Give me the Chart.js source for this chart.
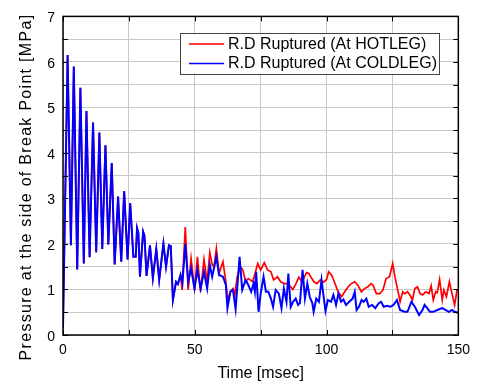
<!DOCTYPE html>
<html>
<head>
<meta charset="utf-8">
<title>Break point pressure</title>
<script src="https://cdn.jsdelivr.net/npm/chart.js@4.4.1/dist/chart.umd.min.js"></script>
<style>
  body { margin: 0; background: #fff; }
  canvas { display: block; }
</style>
</head>
<body>
<canvas id="chart" width="477" height="384"></canvas>
<script>
// first ~45 msec: both cases lie on top of each other
var sharedTime = [0, 1.75, 3.0, 4.1, 5.4, 6.6, 7.9, 8.9, 10.1, 11.4, 12.6, 13.8, 14.9, 16.1, 17.2, 18.5, 19.6, 20.9, 22.1, 23.2,
    24.5, 25.5, 26.7, 27.6, 28.1, 28.6, 29.2, 30.4, 30.9, 31.7, 33.0, 34.1, 35.4, 36.5, 38.1, 39.1, 40.2, 40.9, 41.7, 42.9,
    43.6, 44.6];
var sharedPressure = [0.15, 6.15, 1.97, 5.9, 1.44, 5.43, 1.57, 4.92, 1.71, 4.67, 1.82, 4.45, 1.89, 4.17, 1.99, 3.78, 1.55, 3.04, 1.61, 3.16,
    1.66, 2.90, 1.72, 1.72, 2.35, 2.24, 1.28, 2.27, 2.18, 1.30, 1.97, 1.25, 1.89, 1.21, 2.01, 1.50, 1.97, 1.95, 0.77, 1.17,
    1.12, 1.32];

var hotTime = [45.2, 46.4, 47.5, 48.6, 49.9, 51.0, 52.2, 53.5, 54.7, 55.7, 56.6, 57.3, 58.2, 59.2, 60.7, 61.8, 62.4, 63.5, 64.5, 65.2,
    66.1, 67.3, 68.2, 69.3, 70.3, 71.3, 72.0, 73.9, 75.0, 76.4, 77.6, 78.9, 79.9, 81.4, 82.6, 83.9, 85.1, 86.4, 87.2, 88.4,
    89.5, 90.7, 92.4, 93.3, 94.0, 95.2, 96.4, 97.6, 98.9, 100.0, 100.8, 102.0, 103.2, 104.4, 105.7, 106.9, 108.2, 109.4, 110.7, 111.9,
    113.2, 114.4, 115.7, 116.9, 117.6, 118.9, 120.2, 121.4, 122.6, 123.9, 125.1, 126.0, 127.0, 127.9, 128.9, 129.7, 130.7, 131.6, 132.6, 133.5,
    134.5, 135.5, 136.4, 137.7, 138.9, 139.7, 140.5, 141.4, 142.0, 142.9, 143.9, 144.5, 145.5, 146.6, 147.6, 148.6, 149.5, 150];
var hotPressure = [0.99, 2.37, 0.99, 1.68, 0.99, 1.72, 0.95, 1.66, 1.17, 1.81, 1.54, 1.50, 1.90, 1.35, 1.61, 1.17, 0.77, 0.95, 1.02, 0.88,
    1.28, 1.50, 1.43, 1.17, 1.24, 1.20, 1.17, 1.57, 1.43, 1.59, 1.43, 1.39, 1.21, 1.28, 1.17, 1.13, 1.13, 1.06, 1.00, 1.13,
    1.27, 1.17, 1.37, 1.35, 1.28, 1.17, 1.13, 1.21, 1.16, 1.22, 1.39, 1.31, 1.13, 0.95, 0.84, 0.95, 1.06, 1.13, 1.17, 1.09,
    0.95, 1.02, 1.06, 1.13, 1.10, 0.91, 0.91, 0.99, 1.24, 1.28, 1.57, 1.26, 0.99, 0.73, 0.95, 0.91, 0.95, 0.88, 0.77, 1.02,
    1.06, 0.91, 0.88, 0.95, 0.91, 1.08, 0.77, 0.95, 0.93, 1.22, 0.77, 0.99, 0.84, 1.17, 0.91, 0.66, 0.99, 0.99];

var coldTime = [45.3, 46.4, 47.5, 48.6, 49.9, 51.0, 52.2, 53.5, 54.7, 55.7, 56.6, 58.2, 59.2, 60.7, 61.8, 62.4, 63.5, 64.5, 65.5, 67.0,
    68.0, 69.3, 70.3, 71.4, 72.3, 72.8, 73.3, 74.2, 75.0, 76.1, 77.0, 77.9, 78.9, 79.7, 80.7, 81.9, 82.9, 83.8, 84.8, 85.5,
    86.4, 87.3, 88.3, 89.2, 89.9, 90.9, 91.8, 92.7, 93.6, 94.6, 95.1, 96.1, 97.1, 98.1, 98.9, 99.6, 100.5, 101.7, 102.6, 103.6,
    104.5, 105.5, 106.4, 107.4, 108.6, 109.9, 110.7, 111.4, 112.3, 113.3, 114.1, 115.1, 116.0, 117.3, 118.5, 119.8, 120.7, 121.7, 122.9, 124.2,
    125.4, 126.7, 127.9, 129.5, 130.7, 132.2, 133.5, 135.1, 136.4, 137.2, 138.2, 139.2, 140.5, 142.0, 143.9, 145.1, 146.4, 147.6, 148.6, 150];
var coldPressure = [1.14, 2.00, 1.17, 1.46, 1.02, 1.43, 1.02, 1.39, 1.02, 1.54, 1.28, 1.72, 1.32, 1.28, 1.10, 0.59, 0.95, 0.99, 0.57, 1.72,
    0.99, 1.21, 1.10, 0.95, 1.13, 0.95, 1.39, 0.51, 0.91, 1.28, 0.95, 0.95, 0.80, 0.62, 0.99, 0.91, 0.59, 1.02, 0.73, 1.35,
    0.62, 0.73, 0.80, 0.66, 0.70, 1.43, 0.80, 1.13, 0.84, 0.70, 0.51, 0.80, 0.73, 1.21, 0.84, 0.53, 0.77, 0.73, 0.88, 0.66,
    0.91, 0.73, 0.78, 0.66, 0.73, 0.80, 0.95, 0.55, 0.62, 0.77, 0.73, 0.80, 0.62, 0.66, 0.59, 0.70, 0.73, 0.62, 0.64, 0.62,
    0.66, 0.77, 0.55, 0.51, 0.51, 0.73, 0.62, 0.44, 0.55, 0.66, 0.59, 0.51, 0.51, 0.55, 0.59, 0.55, 0.51, 0.55, 0.51, 0.49];

var seriesLabels = ['R.D Ruptured (At HOTLEG)', 'R.D Ruptured (At COLDLEG)'];
var seriesColors = ['#ff0000', '#0000ff'];
var yTitle = 'Pressure at the side of Break Point [MPa]';
var xTitle = 'Time [msec]';

var fontFamily = "'Liberation Sans', Arial, sans-serif";

function toPoints(t, p) {
    var pts = [];
    for (var i = 0; i < t.length; i++) {
        pts.push({ x: t[i], y: p[i] });
    }
    return pts;
}

var hotPoints = toPoints(sharedTime.concat(hotTime), sharedPressure.concat(hotPressure));
var coldPoints = toPoints(sharedTime.concat(coldTime), sharedPressure.concat(coldPressure));

function line(ctx, x1, y1, x2, y2) {
    ctx.beginPath();
    ctx.moveTo(x1, y1);
    ctx.lineTo(x2, y2);
    ctx.stroke();
}

// box frame, inward ticks, boxed legend and the y title
var decorations = {
    id: 'decorations',
    afterDatasetsDraw(chart) {
        var ctx = chart.ctx;
        var a = chart.chartArea;
        var xs = chart.scales.x;
        var ys = chart.scales.y;
        ctx.save();
        ctx.strokeStyle = '#000';
        ctx.lineWidth = 1;
        xs.ticks.forEach(t => {
            var px = Math.round(xs.getPixelForValue(t.value)) + 0.5;
            line(ctx, px, a.bottom, px, a.bottom - 5);
            line(ctx, px, a.top, px, a.top + 5);
        });
        ys.ticks.forEach(t => {
            var py = Math.round(ys.getPixelForValue(t.value)) + 0.5;
            line(ctx, a.left, py, a.left + 5, py);
            line(ctx, a.right, py, a.right - 5, py);
        });
        ctx.lineWidth = 1.5;
        ctx.strokeRect(a.left, a.top, a.right - a.left, a.bottom - a.top);
        ctx.restore();
    },
    afterDraw(chart) {
        var ctx = chart.ctx;
        ctx.save();

        // legend
        ctx.fillStyle = '#fff';
        ctx.fillRect(180, 33, 259, 41);
        ctx.strokeStyle = '#444';
        ctx.lineWidth = 1;
        ctx.strokeRect(180.5, 33.5, 259, 41);
        ctx.font = '16px ' + fontFamily;
        ctx.textBaseline = 'middle';
        ctx.textAlign = 'left';
        for (var i = 0; i < seriesLabels.length; i++) {
            var y = 44 + i * 19.5;
            ctx.strokeStyle = seriesColors[i];
            ctx.lineWidth = 1.5;
            line(ctx, 189, y, 224, y);
            ctx.fillStyle = '#000';
            ctx.fillText(seriesLabels[i], 228, y + 0.5);
        }

        // y axis title
        ctx.translate(27, 187);
        ctx.rotate(-Math.PI / 2);
        ctx.font = '16px ' + fontFamily;
        ctx.letterSpacing = '1.3px';
        ctx.textAlign = 'center';
        ctx.fillStyle = '#000';
        ctx.fillText(yTitle, 0, 0);
        ctx.restore();
    }
};

var ctx = document.getElementById('chart').getContext('2d');

window.myChart = new Chart(ctx, {
    type: 'line',
    data: {
        datasets: [{
            label: seriesLabels[0],
            data: hotPoints,
            borderColor: seriesColors[0],
            borderWidth: 1.7,
            pointRadius: 0,
            tension: 0,
            order: 1
        }, {
            label: seriesLabels[1],
            data: coldPoints,
            borderColor: seriesColors[1],
            borderWidth: 2,
            pointRadius: 0,
            tension: 0,
            order: 0
        }]
    },
    options: {
        responsive: false,
        animation: false,
        devicePixelRatio: 1,
        layout: { padding: { left: 0, top: 16, right: 15, bottom: 0 } },
        plugins: {
            legend: { display: false },
            tooltip: { enabled: false }
        },
        scales: {
            x: {
                type: 'linear',
                min: 0,
                max: 150,
                ticks: {
                    stepSize: 25,
                    autoSkip: false,
                    maxRotation: 0,
                    padding: 7,
                    color: '#000',
                    font: { family: fontFamily, size: 14 },
                    callback: v => (v % 50 === 0 ? v : '')
                },
                grid: { color: '#c8c8c8', drawTicks: false },
                border: { display: false },
                title: {
                    display: true,
                    text: xTitle,
                    color: '#000',
                    font: { family: fontFamily, size: 16 },
                    padding: { top: 0, bottom: 1 }
                },
                afterFit: s => { s.height = 49; }
            },
            y: {
                min: 0,
                max: 7,
                ticks: {
                    stepSize: 0.5,
                    autoSkip: false,
                    padding: 8,
                    labelOffset: 2,
                    color: '#000',
                    font: { family: fontFamily, size: 14 },
                    callback: v => (Number.isInteger(v) ? v : '')
                },
                grid: { color: '#c8c8c8', drawTicks: false },
                border: { display: false },
                afterFit: s => { s.width = 63; }
            }
        }
    },
    plugins: [decorations]
});
</script>
</body>
</html>
